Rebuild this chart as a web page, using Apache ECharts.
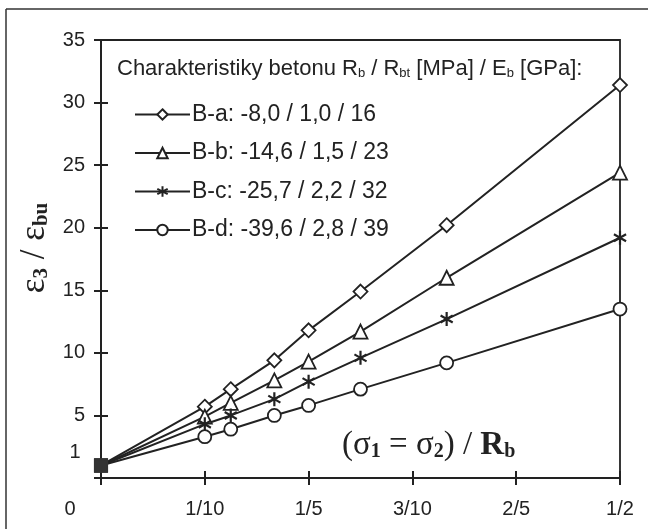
<!DOCTYPE html>
<html>
<head>
<meta charset="utf-8">
<script src="https://cdn.jsdelivr.net/npm/echarts@6/dist/echarts.min.js"></script>
<style>
  html, body { margin: 0; padding: 0; background: #fff; }
  #chart { width: 648px; height: 529px; }
</style>
</head>
<body>
<div id="chart"></div>
<script>
// stress ratio (σ1 = σ2) / Rb
const xValues = [0, 0.1, 0.125, 0.167, 0.2, 0.25, 0.333, 0.5];
// ε3 / εbu per concrete
const valuesBa = [1, 5.7, 7.1, 9.4, 11.8, 14.9, 20.2, 31.4];
const valuesBb = [1, 4.9, 6.0, 7.8, 9.3, 11.7, 16.0, 24.4];
const valuesBc = [1, 4.3, 5.0, 6.3, 7.7, 9.6, 12.7, 19.2];
const valuesBd = [1, 3.3, 3.9, 5.0, 5.8, 7.1, 9.2, 13.5];
const seriesNames = [
  'B-a: -8,0 / 1,0 / 16',
  'B-b: -14,6 / 1,5 / 23',
  'B-c: -25,7 / 2,2 / 32',
  'B-d: -39,6 / 2,8 / 39'
];
const xTickLabels = ['', '1/10', '1/5', '3/10', '2/5', '1/2'];
const yTickLabels = ['', '5', '10', '15', '20', '25', '30', '35'];

const ink = '#222';
const sans = 'Liberation Sans';
const serif = 'Liberation Serif';
const starPath = 'path://M6,0L6,12M0.8,3L11.2,9M0.8,9L11.2,3';

function makeSeries(name, values, symbol, size) {
  return {
    name: name,
    type: 'line',
    xAxisIndex: 0,
    yAxisIndex: 0,
    symbol: symbol,
    symbolSize: size,
    symbolKeepAspect: true,
    lineStyle: { color: ink, width: 2 },
    itemStyle: {
      color: symbol === starPath ? 'none' : '#fff',
      borderColor: ink,
      borderWidth: symbol === starPath ? 2.2 : 1.8
    },
    data: xValues.map(function (x, i) {
      if (i === 0) {
        // filled square at the origin point
        return { value: [x, values[i]], symbol: 'rect', symbolSize: 12, itemStyle: { color: '#333', borderColor: '#333' } };
      }
      return [x, values[i]];
    })
  };
}

let myChart = echarts.init(document.getElementById('chart'));

let option = {
  animation: false,
  backgroundColor: '#fff',
  title: {
    text: 'Charakteristiky betonu R{s|b} / R{s|bt} [MPa] / E{s|b} [GPa]:',
    left: 117,
    top: 58,
    padding: 0,
    textStyle: {
      fontFamily: sans,
      fontSize: 22,
      fontWeight: 'normal',
      color: ink,
      rich: {
        s: { fontFamily: sans, fontSize: 13, color: ink, verticalAlign: 'bottom', padding: [7, 0, 0, 0] }
      }
    }
  },
  legend: {
    orient: 'vertical',
    left: 134,
    top: 103,
    padding: 0,
    itemWidth: 55,
    itemHeight: 13,
    itemGap: 15.5,
    data: seriesNames,
    textStyle: { fontFamily: sans, fontSize: 23, color: ink, padding: [0, 0, 0, -3] }
  },
  grid: {
    left: 101,
    right: 28,
    top: 40,
    bottom: 51,
    show: true,
    borderColor: ink,
    borderWidth: 1.8
  },
  xAxis: [
    {
      type: 'value',
      min: 0,
      max: 0.5,
      interval: 0.1,
      axisLine: { lineStyle: { color: ink, width: 2 } },
      axisTick: { show: true, inside: false, length: 7, lineStyle: { color: ink, width: 2 } },
      splitLine: { show: false },
      axisLabel: {
        margin: 21,
        fontFamily: sans,
        fontSize: 20,
        color: ink,
        formatter: function (v, i) { return xTickLabels[i]; }
      }
    },
    {
      type: 'value',
      min: 0,
      max: 0.5,
      interval: 0.1,
      position: 'bottom',
      axisLine: { show: false },
      axisTick: { show: true, inside: true, length: 7, lineStyle: { color: ink, width: 2 } },
      splitLine: { show: false },
      axisLabel: { show: false }
    }
  ],
  yAxis: [
    {
      type: 'value',
      min: 0,
      max: 35,
      interval: 5,
      name: '{e|ε}{s|3}{e| / ε}{s|bu}',
      nameLocation: 'middle',
      nameRotate: 90,
      nameGap: 44,
      nameTextStyle: {
        padding: [0, 0, 0, 22],
        rich: {
          e: { fontFamily: serif, fontSize: 35, color: ink },
          s: { fontFamily: serif, fontSize: 21, fontWeight: 'bold', color: ink, verticalAlign: 'bottom', padding: [10, 0, 0, 0] }
        }
      },
      axisLine: { lineStyle: { color: ink, width: 2 } },
      axisTick: { show: true, inside: false, length: 7, lineStyle: { color: ink, width: 2 } },
      splitLine: { show: false },
      axisLabel: {
        margin: 16,
        fontFamily: sans,
        fontSize: 20,
        color: ink,
        formatter: function (v, i) { return yTickLabels[i]; }
      }
    },
    {
      type: 'value',
      min: 0,
      max: 35,
      interval: 5,
      position: 'left',
      axisLine: { show: false },
      axisTick: { show: true, inside: true, length: 7, lineStyle: { color: ink, width: 2 } },
      splitLine: { show: false },
      axisLabel: { show: false }
    }
  ],
  graphic: [
    // scan frame on left and top
    { type: 'line', shape: { x1: 6, y1: 9, x2: 6, y2: 529 }, style: { stroke: '#333', lineWidth: 1.5 } },
    { type: 'line', shape: { x1: 6, y1: 9, x2: 648, y2: 9 }, style: { stroke: '#333', lineWidth: 1.5 } },
    { type: 'text', x: 75, y: 452, style: { text: '1', fontFamily: sans, fontSize: 20, fill: ink, align: 'center', verticalAlign: 'middle' } },
    { type: 'text', x: 70, y: 509, style: { text: '0', fontFamily: sans, fontSize: 20, fill: ink, align: 'center', verticalAlign: 'middle' } },
    {
      type: 'text',
      x: 342,
      y: 445,
      style: {
        text: '{p|(σ}{s|1}{p| = σ}{s|2}{p|) / }{r|R}{s|b}',
        verticalAlign: 'middle',
        rich: {
          p: { fontFamily: serif, fontSize: 33, fill: ink },
          r: { fontFamily: serif, fontSize: 33, fontWeight: 'bold', fill: ink },
          s: { fontFamily: serif, fontSize: 20, fontWeight: 'bold', fill: ink, verticalAlign: 'bottom', padding: [10, 0, 0, 0] }
        }
      }
    }
  ],
  series: [
    makeSeries(seriesNames[0], valuesBa, 'diamond', 14),
    makeSeries(seriesNames[1], valuesBb, 'triangle', 14),
    makeSeries(seriesNames[2], valuesBc, starPath, 14),
    makeSeries(seriesNames[3], valuesBd, 'circle', 13)
  ]
};
myChart.setOption(option);

window.addEventListener('resize', function () {
  myChart.resize();
});
</script>
</body>
</html>
